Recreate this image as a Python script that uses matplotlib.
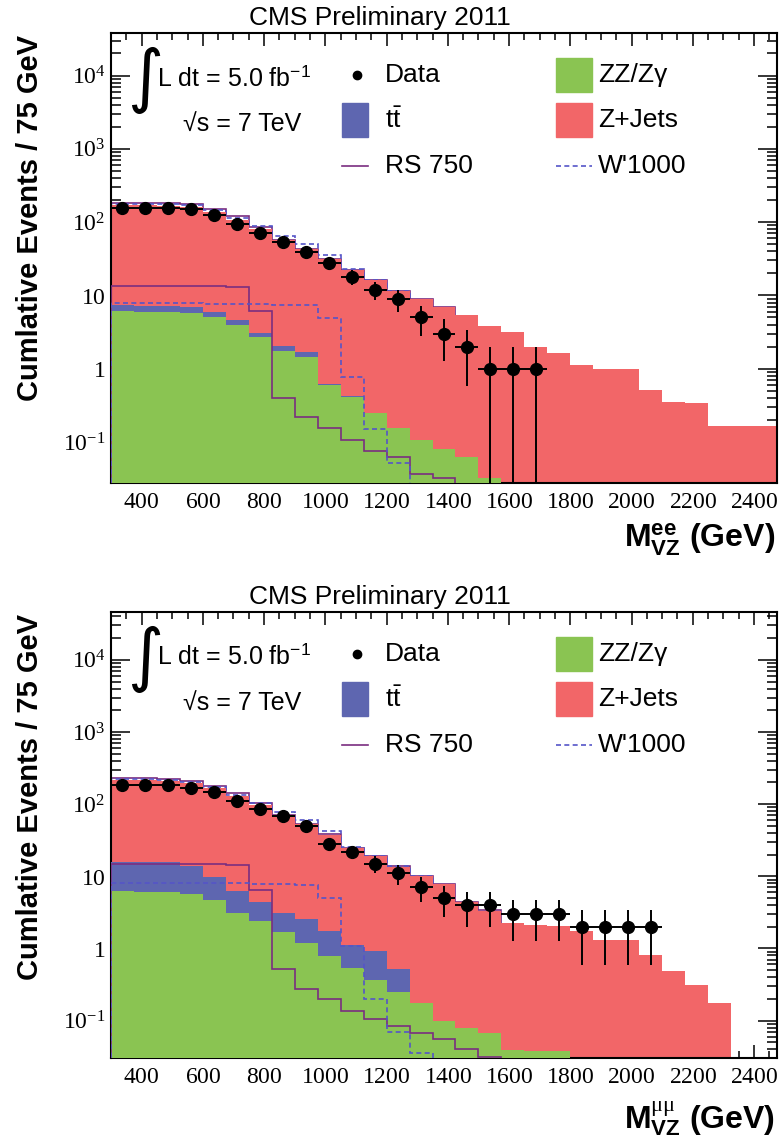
import numpy as np
import matplotlib
matplotlib.use("Agg")
import matplotlib.pyplot as plt
from matplotlib.patches import Rectangle
from matplotlib.lines import Line2D
from matplotlib.ticker import FixedLocator, LogLocator, MultipleLocator, NullFormatter

plt.rcParams["font.family"] = ["Liberation Sans", "DejaVu Sans"]
plt.rcParams["mathtext.fontset"] = "custom"
plt.rcParams["mathtext.rm"] = "Liberation Serif"
plt.rcParams["mathtext.it"] = "Liberation Serif:italic"
plt.rcParams["mathtext.bf"] = "Liberation Sans:bold"
plt.rcParams["mathtext.sf"] = "Liberation Sans"

# binning: 29 bins of 75 GeV starting at 300 GeV
BIN_LO = 300
BIN_W = 75
N_BINS = 29

# ---- electron channel (cumulative events per bin) ----
ee_zz = [6.18, 6.0, 5.88, 5.7, 5.13, 3.95, 2.74, 1.76, 1.43, 0.60, 0.415, 0.246, 0.157,
         0.106, 0.080, 0.063, 0.032, 0, 0, 0, 0, 0, 0, 0, 0, 0, 0, 0, 0]
ee_tt = [1.25, 1.25, 1.2, 1.15, 0.87, 0.65, 0.30, 0.30, 0.28, 0.02, 0.01, 0, 0,
         0, 0, 0, 0, 0, 0, 0, 0, 0, 0, 0, 0, 0, 0, 0, 0]
ee_zjets = [163.6, 163.8, 159.9, 155.2, 133.0, 102.4, 77.5, 54.9, 40.9, 30.4, 21.8, 15.95, 11.34,
            8.79, 6.87, 5.34, 3.83, 3.14, 1.96, 1.65, 1.12, 1.0, 1.0, 0.51, 0.35, 0.34, 0.165, 0.165, 0.165]
ee_rs750 = [13.4, 13.4, 13.4, 13.4, 13.4, 13.0, 6.1, 0.40, 0.217, 0.154, 0.106, 0.076, 0.063,
            0.037, 0.032, 0, 0, 0, 0, 0, 0, 0, 0, 0, 0, 0, 0, 0, 0]
ee_wp1000 = [7.8, 7.8, 7.8, 7.8, 7.7, 7.6, 7.6, 7.5, 7.3, 4.87, 0.78, 0.149, 0.051,
             0, 0, 0, 0, 0, 0, 0, 0, 0, 0, 0, 0, 0, 0, 0, 0]
ee_data = [157, 157, 154, 151, 125, 94, 72, 53, 39, 28, 18, 12, 9, 5, 3, 2, 1, 1, 1]

# ---- muon channel ----
mm_zz = [6.18, 6.06, 5.98, 5.74, 4.64, 3.10, 2.37, 1.69, 1.19, 0.795, 0.537, 0.362, 0.252,
         0.176, 0.098, 0.079, 0.068, 0.0388, 0.038, 0.0375, 0, 0, 0, 0, 0, 0, 0, 0, 0]
mm_tt = [9.7, 9.7, 9.7, 8.3, 5.2, 3.1, 2.0, 1.4, 1.37, 0.94, 0.59, 0.57, 0.27,
         0, 0, 0, 0, 0, 0, 0, 0, 0, 0, 0, 0, 0, 0, 0, 0]
mm_zjets = [197.1, 197.2, 193.3, 182.0, 155.2, 121.8, 91.6, 66.9, 50.4, 36.0, 23.5, 18.0, 13.1,
            10.0, 7.7, 4.32, 3.27, 2.21, 2.05, 1.98, 1.73, 1.32, 1.32, 0.82, 0.49, 0.315, 0.176, 0, 0]
mm_rs750 = [14.9, 14.9, 14.9, 14.9, 14.9, 14.2, 6.5, 0.52, 0.275, 0.20, 0.135, 0.105, 0.085,
            0.068, 0.056, 0.041, 0.031, 0, 0, 0, 0, 0, 0, 0, 0, 0, 0, 0, 0]
mm_wp1000 = [8.1, 8.1, 8.1, 8.1, 8.1, 7.95, 7.9, 7.8, 7.57, 5.05, 1.07, 0.20, 0.069,
             0.035, 0, 0, 0, 0, 0, 0, 0, 0, 0, 0, 0, 0, 0, 0, 0]
mm_data = [186, 186, 186, 167, 145, 109, 86, 69, 50, 28, 22, 15, 11, 7, 5, 4, 4, 3, 3, 3, 2, 2, 2, 2]

C_ZJ = "#f26668"
C_ZZ = "#8ac452"
C_TT = "#5e66b0"
C_RS = "#7a2e80"
C_WP = "#5555c8"

W, H = 781, 1140
TINY = 1e-6


def fpos(x, y):
    return x / W, 1 - y / H


def pos(v):
    v = np.asarray(v, dtype=float)
    return np.where(v > 0, v, TINY)


def draw_panel(ax, zz, tt, zj, rs, wp, data, ylim):
    edges = BIN_LO + BIN_W * np.arange(N_BINS + 1)
    zz = np.asarray(zz)
    tt = np.asarray(tt)
    zj = np.asarray(zj)
    rs = np.asarray(rs)
    wp = np.asarray(wp)
    blue_top = zz + tt
    total = blue_top + zj

    # signal added on top of background, only peeks out above the stack
    ax.stairs(np.where(rs > 0, total + rs, TINY), edges, color=C_RS, lw=1.2, zorder=1)
    ax.stairs(np.where(wp > 0, total + wp, TINY), edges, color=C_WP, lw=1.2, ls=(0, (3, 2)), zorder=1)

    ax.stairs(pos(total), edges, baseline=TINY, fill=True, color=C_ZJ, lw=0, zorder=2)
    ax.stairs(pos(blue_top), edges, baseline=TINY, fill=True, color=C_TT, lw=0, zorder=3)
    ax.stairs(pos(zz), edges, baseline=TINY, fill=True, color=C_ZZ, lw=0, zorder=4)

    ax.stairs(pos(rs), edges, color=C_RS, lw=1.2, zorder=5)
    ax.stairs(pos(wp), edges, color=C_WP, lw=1.2, ls=(0, (3, 2)), zorder=5)

    d = np.asarray(data, dtype=float)
    xc = edges[:len(d)] + BIN_W / 2
    err = np.sqrt(d)
    lo = np.minimum(err, d * 0.9999)
    ax.errorbar(xc, d, xerr=BIN_W / 2, yerr=[lo, err], fmt="o", color="black",
                ms=8.5, elinewidth=1.4, capsize=0, zorder=6)

    ax.set_yscale("log")
    ax.set_xlim(edges[0], edges[-1])
    ax.set_ylim(*ylim)
    ax.xaxis.set_major_locator(MultipleLocator(200))
    ax.xaxis.set_minor_locator(MultipleLocator(50))
    ax.yaxis.set_major_locator(FixedLocator([0.1, 1, 10, 100, 1000, 10000]))
    ax.yaxis.set_minor_locator(LogLocator(base=10, subs=np.arange(2, 10)))
    ax.yaxis.set_minor_formatter(NullFormatter())
    ax.set_yticklabels([r"$10^{-1}$", r"$1$", r"$10$", r"$10^{2}$", r"$10^{3}$", r"$10^{4}$"])
    ax.set_xticklabels([r"$%d$" % v for v in ax.get_xticks()])
    ax.tick_params(which="both", direction="in", top=True, right=True, width=1.1,
                   labelsize=17)
    ax.tick_params(axis="x", which="major", length=9.5, pad=6)
    ax.tick_params(axis="x", which="minor", length=5)
    ax.tick_params(axis="y", which="major", length=14, pad=4)
    ax.tick_params(axis="y", which="minor", length=7)
    for s in ax.spines.values():
        s.set_linewidth(1.5)


def draw_texts(fig, dy, xlabel):
    fig.text(*fpos(380, 18 + dy), "CMS Preliminary 2011", ha="center", va="center", fontsize=19)
    fig.text(*fpos(30, 35 + dy), "Cumlative Events / 75 GeV", rotation=90, ha="center", va="top",
             fontsize=21, fontweight="bold")
    fig.text(*fpos(775, 540 + dy), xlabel, ha="right", va="center", fontsize=23, fontweight="bold")

    fig.text(*fpos(145, 80 + dy), "\u222b", ha="center", va="center", fontsize=50,
             family=["DejaVu Sans", "Liberation Sans"])
    fig.text(*fpos(157, 78 + dy), r"L dt = 5.0 fb$^{\mathsf{-1}}$", ha="left", va="center", fontsize=18)
    fig.text(*fpos(183, 124 + dy), "\u221as = 7 TeV", ha="left", va="center", fontsize=18)

    rows = [75 + dy, 120 + dy, 166 + dy]
    fig.add_artist(Line2D([357 / W], [1 - rows[0] / H], marker="o", ms=6, color="black",
                          transform=fig.transFigure))
    fig.text(*fpos(385, rows[0]), "Data", ha="left", va="center", fontsize=19)
    x0, y0 = fpos(342, rows[1] + 17)
    fig.add_artist(Rectangle((x0, y0), 26 / W, 34 / H, color=C_TT, transform=fig.transFigure))
    fig.text(*fpos(385, rows[1]), r"$\mathsf{t\bar{t}}$", ha="left", va="center", fontsize=19)
    fig.add_artist(Line2D([342 / W, 368 / W], [1 - rows[2] / H] * 2, color=C_RS, lw=1.2,
                          transform=fig.transFigure))
    fig.text(*fpos(385, rows[2]), "RS 750", ha="left", va="center", fontsize=19)

    x0, y0 = fpos(556, rows[0] + 17)
    fig.add_artist(Rectangle((x0, y0), 36 / W, 34 / H, color=C_ZZ, transform=fig.transFigure))
    fig.text(*fpos(598, rows[0]), "ZZ/Z\u03b3", ha="left", va="center", fontsize=19)
    x0, y0 = fpos(556, rows[1] + 17)
    fig.add_artist(Rectangle((x0, y0), 36 / W, 34 / H, color=C_ZJ, transform=fig.transFigure))
    fig.text(*fpos(598, rows[1]), "Z+Jets", ha="left", va="center", fontsize=19)
    fig.add_artist(Line2D([556 / W, 592 / W], [1 - rows[2] / H] * 2, color=C_WP, lw=1.2,
                          ls=(0, (3, 2)), transform=fig.transFigure))
    fig.text(*fpos(598, rows[2]), "W'1000", ha="left", va="center", fontsize=19)


fig = plt.figure(figsize=(W / 100, H / 100), dpi=100)
ax1 = fig.add_axes([111 / W, 1 - 483 / H, 666 / W, 450 / H])
ax2 = fig.add_axes([111 / W, 1 - 1058 / H, 666 / W, 446 / H])

draw_panel(ax1, ee_zz, ee_tt, ee_zjets, ee_rs750, ee_wp1000, ee_data, (0.0276, 3.8e4))
draw_panel(ax2, mm_zz, mm_tt, mm_zjets, mm_rs750, mm_wp1000, mm_data, (0.0303, 4.6e4))

draw_texts(fig, 0, r"$\mathbf{M_{VZ}^{ee}}$ (GeV)")
draw_texts(fig, 579, r"$\mathbf{M}_{\mathbf{VZ}}^{\mathrm{\mu\mu}}$ (GeV)")

fig.savefig("out.png", dpi=100)
